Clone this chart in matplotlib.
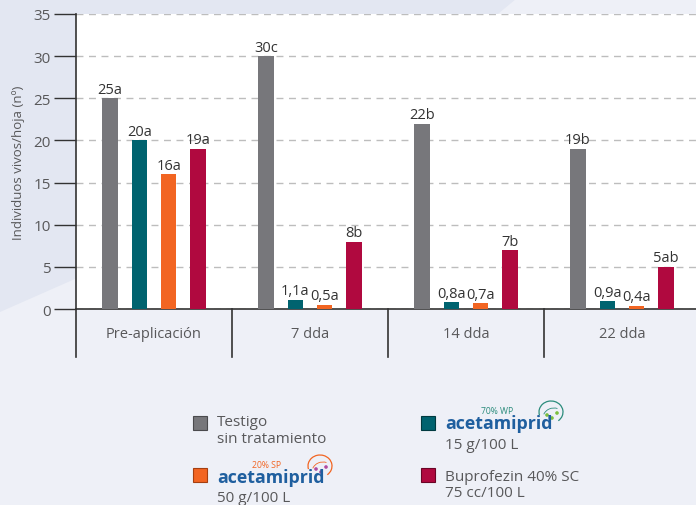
import numpy as np
import matplotlib.pyplot as plt
from matplotlib.patches import Polygon, Rectangle, Arc, Circle
from matplotlib.transforms import IdentityTransform

plt.rcParams['font.family'] = ['Open Sans', 'DejaVu Sans']

# datos
categorias = ['Pre-aplicación', '7 dda', '14 dda', '22 dda']
testigo = [25, 30, 22, 19]
acet_wp = [20, 1.1, 0.8, 0.9]
acet_sp = [16, 0.5, 0.7, 0.4]
buprofezin = [19, 8, 7, 5]
etiq_testigo = ['25a', '30c', '22b', '19b']
etiq_wp = ['20a', '1,1a', '0,8a', '0,9a']
etiq_sp = ['16a', '0,5a', '0,7a', '0,4a']
etiq_bupro = ['19a', '8b', '7b', '5ab']

c_gris = '#77777b'
c_teal = '#00636f'
c_naranja = '#f26522'
c_rojo = '#b0093f'
c_texto = '#58585a'

W, H = 696, 506
fig = plt.figure(figsize=(W / 100, H / 100), dpi=100)
fig.patch.set_facecolor('#eef0f7')

# fondo con forma diagonal
px = lambda x, y: (x / W, 1 - y / H)
fondo = Polygon([px(0, 0), px(516, 0), px(295, 183), px(0, 313)],
                closed=True, facecolor='#e3e7f2', edgecolor='none',
                transform=fig.transFigure, zorder=-1)
fig.add_artist(fondo)

ax = fig.add_axes([76 / W, 1 - 310 / H, 620 / W, 295 / H])
ax.set_facecolor('white')

x = np.arange(len(categorias))
paso = 0.1885
ancho = 0.098
series = [(testigo, etiq_testigo, c_gris),
          (acet_wp, etiq_wp, c_teal),
          (acet_sp, etiq_sp, c_naranja),
          (buprofezin, etiq_bupro, c_rojo)]
for i, (vals, etiq, col) in enumerate(series):
    b = ax.bar(x + (i - 1.5) * paso, vals, ancho, color=col, zorder=3)
    ax.bar_label(b, labels=etiq, padding=1, fontsize=10.5, color='#333333')

ax.set_xlim(-0.5, -0.5 + 620 / 156)
ax.set_ylim(0, 35)
ax.set_yticks(range(0, 36, 5))
ax.yaxis.grid(True, linestyle=(0, (5, 4)), color='#bdbdbd', lw=1, zorder=0)
ax.set_axisbelow(True)
ax.tick_params(axis='y', length=16, width=1, color='#333333',
               labelcolor=c_texto, labelsize=11, pad=2)
ax.set_xticks([])
for s in ['top', 'right']:
    ax.spines[s].set_visible(False)
for s in ['left', 'bottom']:
    ax.spines[s].set_color('#333333')
    ax.spines[s].set_linewidth(1.2)

ax.set_ylabel('Individuos vivos/hoja (nº)', fontsize=9.5, color=c_texto, labelpad=6)

# separadores y nombres de categoria
abajo = -48 / 295
for xs in [-0.5, 0.5, 1.5, 2.5]:
    ax.plot([xs, xs], [0, abajo], color='#333333', lw=1.2,
            transform=ax.get_xaxis_transform(), clip_on=False)
for xi, cat in zip(x, categorias):
    ax.text(xi, -25 / 295, cat, transform=ax.get_xaxis_transform(),
            ha='center', va='center', fontsize=10.5, color=c_texto)

# leyenda
def caja(x0, y0, col, borde):
    fig.add_artist(Rectangle(px(x0, y0 + 14), 14 / W, 14 / H, facecolor=col,
                             edgecolor=borde, lw=0.8, transform=fig.transFigure))

def texto(x0, y0, s, **kw):
    fig.text(*px(x0, y0), s, fontsize=11, color=c_texto, va='center', **kw)

def logo(x0, base, tag, col_tag, x_tag, cx, cy, col_pt):
    fig.text(*px(x0, base), 'acetamiprid', fontsize=12.8, fontweight='bold',
             color='#1f5f9f', va='baseline')
    fig.text(*px(x_tag, base - 14.5), tag, fontsize=6.2, color=col_tag,
             va='baseline')
    tr = IdentityTransform()
    fig.add_artist(Arc((cx, H - cy), 24, 22, theta1=-50, theta2=195,
                       color=col_tag, lw=0.9, transform=tr))
    fig.add_artist(Arc((cx + 3, H - cy - 6), 22, 20, theta1=70, theta2=160,
                       color=col_tag, lw=0.6, transform=tr))
    for dx, dy in [(-4, 3), (1, 6), (6, 1)]:
        fig.add_artist(Circle((cx + dx, H - cy - dy), 1.1, color=col_pt,
                              transform=tr))

caja(193, 417, c_gris, '#4a4a4d')
texto(217, 423, 'Testigo')
texto(217, 440, 'sin tratamiento')

caja(421, 417, c_teal, '#003a40')
logo(445, 429, '70% WP', '#2b8c7c', 481, 551, 413, '#7bbf3c')
texto(445, 446, '15 g/100 L')

caja(193, 469, c_naranja, '#a53f10')
logo(217, 483, '20% SP', c_naranja, 252, 320, 467, '#b04aa0')
texto(217, 499, '50 g/100 L')

caja(421, 469, c_rojo, '#6a0426')
texto(445, 478, 'Buprofezin 40% SC')
texto(445, 494, '75 cc/100 L')

fig.savefig('out.png', dpi=100, facecolor=fig.get_facecolor())
